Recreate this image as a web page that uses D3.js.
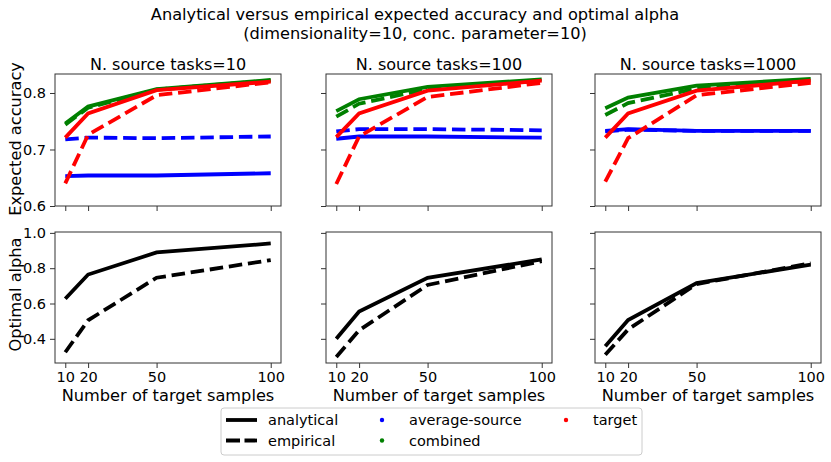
<!DOCTYPE html>
<html>
<head>
<meta charset="utf-8">
<script src="https://cdn.jsdelivr.net/npm/d3@7"></script>
<style>
  body { margin: 0; background: #fff; }
  text { font-family: "DejaVu Sans", sans-serif; fill: #000; }
</style>
</head>
<body>
<div class="chart"></div>
<script>
// data
const targetSamples = [10, 20, 50, 100];
const sourceTasks = [10, 100, 1000];

// expected accuracy, per panel (N. source tasks = 10, 100, 1000)
const avgSourceAnalytical = [
  [0.653, 0.654, 0.654, 0.658],
  [0.719, 0.723, 0.723, 0.721],
  [0.733, 0.736, 0.733, 0.733]
];
const avgSourceEmpirical = [
  [0.718, 0.721, 0.720, 0.723],
  [0.732, 0.736, 0.736, 0.734],
  [0.732, 0.735, 0.733, 0.733]
];
const combinedAnalytical = [
  [0.746, 0.776, 0.807, 0.823],
  [0.768, 0.789, 0.811, 0.824],
  [0.773, 0.792, 0.813, 0.825]
];
const combinedEmpirical = [
  [0.744, 0.774, 0.806, 0.822],
  [0.758, 0.781, 0.807, 0.822],
  [0.761, 0.782, 0.808, 0.822]
];
const targetAnalytical = [
  [0.721, 0.764, 0.805, 0.820],
  [0.722, 0.764, 0.804, 0.822],
  [0.721, 0.764, 0.804, 0.822]
];
const targetEmpirical = [
  [0.640, 0.726, 0.796, 0.819],
  [0.639, 0.723, 0.793, 0.818],
  [0.643, 0.720, 0.796, 0.818]
];

// optimal alpha, per panel
const alphaAnalytical = [
  [0.627, 0.764, 0.889, 0.940],
  [0.400, 0.554, 0.745, 0.850],
  [0.358, 0.506, 0.716, 0.820]
];
const alphaEmpirical = [
  [0.324, 0.505, 0.746, 0.846],
  [0.297, 0.448, 0.705, 0.840],
  [0.310, 0.453, 0.710, 0.828]
];

const accTicks = [0.6, 0.7, 0.8];
const alphaTicks = [0.4, 0.6, 0.8, 1.0];

const width = 831, height = 462;
const colLeft = [55, 326, 595];
const colWidth = 226;
const topRow = { top: 74, bottom: 206 };
const bottomRow = { top: 232, bottom: 363 };
const lineWidth = 3.8;
const dash = '13.5,5.8';

const svg = d3.select('.chart')
  .append('svg')
  .attr('width', width)
  .attr('height', height);

svg.append('text')
  .attr('x', 415).attr('y', 20)
  .attr('text-anchor', 'middle')
  .style('font-size', '16.2px')
  .text('Analytical versus empirical expected accuracy and optimal alpha');
svg.append('text')
  .attr('x', 415).attr('y', 38.5)
  .attr('text-anchor', 'middle')
  .style('font-size', '16.2px')
  .text('(dimensionality=10, conc. parameter=10)');

const line = (x, y) => d3.line()
  .x((d, i) => x(targetSamples[i]))
  .y(d => y(d));

sourceTasks.forEach((n, c) => {
  const x = d3.scaleLinear()
    .domain([5.5, 104.5])
    .range([colLeft[c], colLeft[c] + colWidth]);

  // top row: expected accuracy
  const yAcc = d3.scaleLinear()
    .domain([0.6, 0.8336])
    .range([topRow.bottom, topRow.top]);

  const gTop = svg.append('g');

  gTop.append('text')
    .attr('x', colLeft[c] + colWidth / 2)
    .attr('y', topRow.top - 4.5)
    .attr('text-anchor', 'middle')
    .style('font-size', '16px')
    .text('N. source tasks=' + n);

  const accSeries = [
    { v: avgSourceAnalytical[c], color: 'blue', dashed: false },
    { v: avgSourceEmpirical[c], color: 'blue', dashed: true },
    { v: combinedAnalytical[c], color: 'green', dashed: false },
    { v: combinedEmpirical[c], color: 'green', dashed: true },
    { v: targetAnalytical[c], color: 'red', dashed: false },
    { v: targetEmpirical[c], color: 'red', dashed: true }
  ];

  accSeries.forEach(s => {
    gTop.append('path')
      .attr('d', line(x, yAcc)(s.v))
      .attr('fill', 'none')
      .attr('stroke', s.color)
      .attr('stroke-width', lineWidth)
      .attr('stroke-dasharray', s.dashed ? dash : null);
  });

  gTop.append('g')
    .attr('transform', `translate(0, ${topRow.bottom})`)
    .call(d3.axisBottom(x).tickValues(targetSamples).tickFormat('').tickSizeOuter(0).tickSize(5));
  gTop.append('g')
    .attr('transform', `translate(${colLeft[c]}, 0)`)
    .call(d3.axisLeft(yAcc).tickValues(accTicks).tickFormat(c === 0 ? d3.format('.1f') : '').tickSizeOuter(0).tickSize(5).tickPadding(4));

  gTop.append('rect')
    .attr('x', colLeft[c]).attr('y', topRow.top)
    .attr('width', colWidth).attr('height', topRow.bottom - topRow.top)
    .attr('fill', 'none').attr('stroke', '#333').attr('stroke-width', 1);

  // bottom row: optimal alpha
  const yAlpha = d3.scaleLinear()
    .domain([0.263, 1.005])
    .range([bottomRow.bottom, bottomRow.top]);

  const gBot = svg.append('g');

  [alphaAnalytical[c], alphaEmpirical[c]].forEach((v, k) => {
    gBot.append('path')
      .attr('d', line(x, yAlpha)(v))
      .attr('fill', 'none')
      .attr('stroke', 'black')
      .attr('stroke-width', lineWidth)
      .attr('stroke-dasharray', k === 1 ? dash : null);
  });

  gBot.append('g')
    .attr('transform', `translate(0, ${bottomRow.bottom})`)
    .call(d3.axisBottom(x).tickValues(targetSamples).tickSizeOuter(0).tickSize(5).tickPadding(3.5));
  gBot.append('g')
    .attr('transform', `translate(${colLeft[c]}, 0)`)
    .call(d3.axisLeft(yAlpha).tickValues(alphaTicks).tickFormat(c === 0 ? d3.format('.1f') : '').tickSizeOuter(0).tickSize(5).tickPadding(4));

  gBot.append('rect')
    .attr('x', colLeft[c]).attr('y', bottomRow.top)
    .attr('width', colWidth).attr('height', bottomRow.bottom - bottomRow.top)
    .attr('fill', 'none').attr('stroke', '#333').attr('stroke-width', 1);

  gBot.append('text')
    .attr('x', colLeft[c] + colWidth / 2)
    .attr('y', 401)
    .attr('text-anchor', 'middle')
    .style('font-size', '16.2px')
    .text('Number of target samples');
});

svg.selectAll('.domain').remove();
svg.selectAll('.tick line').attr('stroke', '#333');
svg.selectAll('.tick text')
  .style('font-size', '14.5px')
  .style('font-family', '"DejaVu Sans", sans-serif')
  .attr('fill', '#000');

svg.append('text')
  .attr('transform', `translate(21, ${(topRow.top + topRow.bottom) / 2 - 1}) rotate(-90)`)
  .attr('text-anchor', 'middle')
  .style('font-size', '16.2px')
  .text('Expected accuracy');
svg.append('text')
  .attr('transform', `translate(21, ${(bottomRow.top + bottomRow.bottom) / 2 - 3}) rotate(-90)`)
  .attr('text-anchor', 'middle')
  .style('font-size', '16.2px')
  .text('Optimal alpha');

// legend
const legend = svg.append('g');
legend.append('rect')
  .attr('x', 221).attr('y', 408)
  .attr('width', 421).attr('height', 47)
  .attr('rx', 3)
  .attr('fill', 'white')
  .attr('stroke', '#ccc');

const legendLines = [
  { label: 'analytical', dashed: false },
  { label: 'empirical', dashed: true }
];
legendLines.forEach((d, i) => {
  const y = 420 + i * 20.5;
  legend.append('line')
    .attr('x1', 226).attr('x2', 257)
    .attr('y1', y).attr('y2', y)
    .attr('stroke', 'black').attr('stroke-width', lineWidth)
    .attr('stroke-dasharray', d.dashed ? '14,4.5' : null);
  legend.append('text')
    .attr('x', 268).attr('y', y + 5.3)
    .style('font-size', '14.5px')
    .text(d.label);
});

const legendDots = [
  { label: 'average-source', color: 'blue', col: 0, row: 0 },
  { label: 'combined', color: 'green', col: 0, row: 1 },
  { label: 'target', color: 'red', col: 1, row: 0 }
];
legendDots.forEach(d => {
  const y = 420 + d.row * 20.5;
  const cx = d.col === 0 ? 382 : 566;
  legend.append('circle')
    .attr('cx', cx).attr('cy', y).attr('r', 2.2)
    .attr('fill', d.color);
  legend.append('text')
    .attr('x', cx + 27).attr('y', y + 5.3)
    .style('font-size', '14.5px')
    .text(d.label);
});
</script>
</body>
</html>
